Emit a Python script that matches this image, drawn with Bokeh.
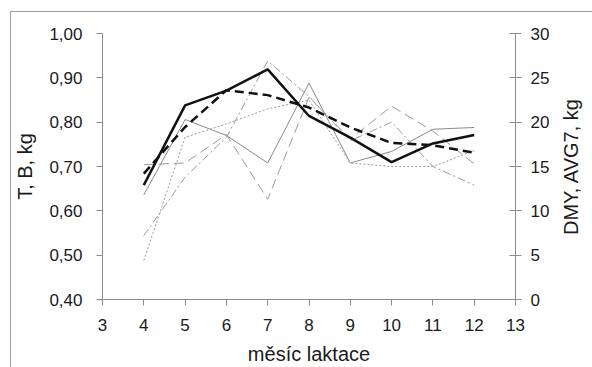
from bokeh.plotting import figure
from bokeh.layouts import row
from bokeh.models import Range1d, LinearAxis, FixedTicker, CustomJSTickFormatter
from bokeh.embed import file_html
from bokeh.resources import INLINE

# --- data -------------------------------------------------------------
months = [4, 5, 6, 7, 8, 9, 10, 11, 12]

# left axis (T, B, kg)
T = [0.658, 0.838, 0.871, 0.919, 0.814, 0.765, 0.710, 0.752, 0.771]
B = [0.684, 0.789, 0.872, 0.861, 0.833, 0.788, 0.753, 0.748, 0.731]

# right axis (DMY, AVG7, kg)
dmy_a = [11.8, 20.3, 18.5, 15.4, 24.4, 15.4, 16.7, 19.2, 19.4]
dmy_b = [15.2, 15.4, 18.6, 11.3, 22.8, 18.1, 21.8, 19.0, 15.3]
avg7_a = [4.4, 18.3, 19.8, 21.5, 22.5, 15.4, 15.0, 15.0, 16.8]
avg7_b = [7.2, 13.8, 18.3, 26.9, 22.9, 17.9, 20.0, 15.0, 12.9]

x_ticks = [3, 4, 5, 6, 7, 8, 9, 10, 11, 12, 13]
left_ticks = [0.40, 0.50, 0.60, 0.70, 0.80, 0.90, 1.00]
right_ticks = [0, 5, 10, 15, 20, 25, 30]

# --- figure -----------------------------------------------------------
FONT = "Liberation Sans"
AXIS_COLOR = "#8c8c8c"

p = figure(width=545, height=355, output_backend="svg", toolbar_location=None,
           x_range=Range1d(3, 13), y_range=Range1d(0.40, 1.00),
           min_border_left=91, min_border_right=41, min_border_top=21, min_border_bottom=68)
p.extra_y_ranges = {"right": Range1d(0, 30)}
p.outline_line_color = None
p.xgrid.visible = False
p.ygrid.visible = False

# gray lines (right axis)
p.line(months, dmy_a, y_range_name="right", line_color="#8a8a8a", line_width=1)
p.line(months, dmy_b, y_range_name="right", line_color="#9a9a9a", line_width=1, line_dash="10 5")
p.line(months, avg7_a, y_range_name="right", line_color="#9a9a9a", line_width=1, line_dash="2 2")
p.line(months, avg7_b, y_range_name="right", line_color="#9a9a9a", line_width=1, line_dash="8 3 2 3")

# black lines (left axis)
p.line(months, T, line_color="#111111", line_width=2.5)
p.line(months, B, line_color="#111111", line_width=2.5, line_dash="9 5")

# axes
def style_axis(ax, tin, tout, standoff):
    ax.axis_line_color = AXIS_COLOR
    ax.major_tick_line_color = AXIS_COLOR
    ax.minor_tick_line_color = None
    ax.major_tick_in = tin
    ax.major_tick_out = tout
    ax.major_label_standoff = standoff
    ax.major_label_text_font = FONT
    ax.major_label_text_font_size = "17px"
    ax.major_label_text_color = "#1a1a1a"
    ax.axis_label_text_font = FONT
    ax.axis_label_text_font_size = "20px"
    ax.axis_label_text_font_style = "normal"
    ax.axis_label_text_color = "#1a1a1a"

xa = p.xaxis[0]
xa.ticker = FixedTicker(ticks=x_ticks)
xa.axis_label = "měsíc laktace"
style_axis(xa, 0, 6, 13)
xa.axis_label_standoff = 9

ya = p.yaxis[0]
ya.ticker = FixedTicker(ticks=left_ticks)
ya.formatter = CustomJSTickFormatter(code="return tick.toFixed(2).replace('.', ',');")
ya.axis_label = "T, B, kg"
style_axis(ya, 0, 6, 14)
ya.axis_label_standoff = 10

ra = LinearAxis(y_range_name="right", ticker=FixedTicker(ticks=right_ticks))
style_axis(ra, 6, 6, 9)
p.add_layout(ra, "right")

# narrow companion figure that only carries the right-hand axis title
p2 = figure(width=36, height=355, output_backend="svg", toolbar_location=None,
            x_range=Range1d(0, 1), y_range=Range1d(0, 30),
            min_border_left=25, min_border_right=0, min_border_top=21, min_border_bottom=68)
p2.outline_line_color = None
p2.xgrid.visible = False
p2.ygrid.visible = False
p2.xaxis.visible = False
t_ax = p2.yaxis[0]
t_ax.ticker = FixedTicker(ticks=[])
t_ax.axis_line_color = None
t_ax.major_tick_line_color = None
t_ax.minor_tick_line_color = None
t_ax.axis_label = "DMY, AVG7, kg"
t_ax.axis_label_standoff = 0
t_ax.axis_label_text_font = FONT
t_ax.axis_label_text_font_size = "20px"
t_ax.axis_label_text_font_style = "normal"
t_ax.axis_label_text_color = "#1a1a1a"

layout = row(p, p2, margin=(11, 0, 0, 10),
             styles={"border-left": "1px solid #a0a0a0", "border-top": "1px solid #a0a0a0"})

open("out.html", "w").write(file_html(layout, INLINE))
